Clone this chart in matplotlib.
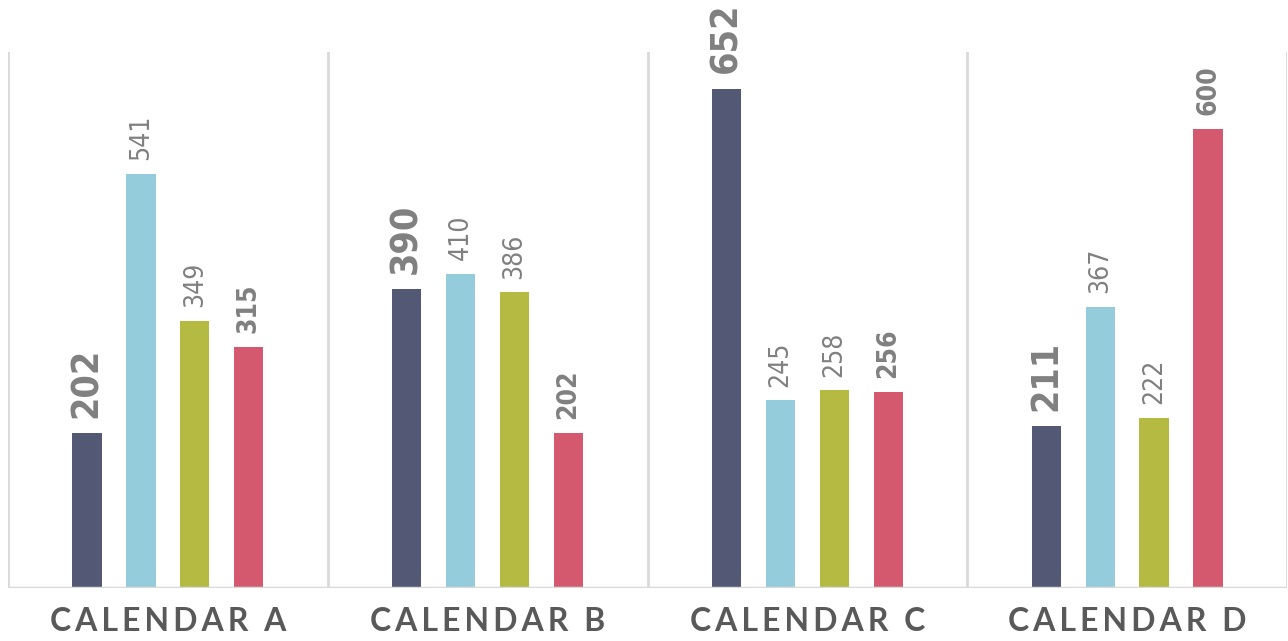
import matplotlib.pyplot as plt
import numpy as np

categories = ["CALENDAR A", "CALENDAR B", "CALENDAR C", "CALENDAR D"]
series_1 = [202, 390, 652, 211]
series_2 = [541, 410, 245, 367]
series_3 = [349, 386, 258, 222]
series_4 = [315, 202, 256, 600]

colors = ["#535874", "#95ccdc", "#b5ba42", "#d4596e"]
# label style per series: (size, weight, gap)
label_styles = [(27, "bold", 11), (19, "normal", 10), (19, "normal", 10), (19, "bold", 10)]

fig = plt.figure(figsize=(12.88, 6.41), dpi=100)
ax = fig.add_axes([8 / 1288, 53 / 641, 1279 / 1288, 536 / 641])

x = np.arange(len(categories))
offsets = [-0.253, -0.084, 0.084, 0.253]
width = 0.092

for s, vals in enumerate([series_1, series_2, series_3, series_4]):
    bars = ax.bar(x + offsets[s], vals, width, color=colors[s], zorder=3)
    size, weight, gap = label_styles[s]
    for b, v in zip(bars, vals):
        ax.annotate(str(v), (b.get_x() + b.get_width() / 2, v),
                    xytext=(0, gap), textcoords="offset points",
                    rotation=90, ha="center", va="bottom",
                    fontsize=size, fontweight=weight, color="#808080",
                    family="DejaVu Sans", fontstretch="condensed")

ax.set_xlim(-0.5, 3.5)
ax.set_ylim(0, 700)

# separators between groups
for xv in np.arange(-0.5, 4, 1):
    ax.axvline(xv, color="#d9d9d9", linewidth=2, zorder=1)
ax.axhline(0, color="#d9d9d9", linewidth=2.5, zorder=4)

for sp in ax.spines.values():
    sp.set_visible(False)
ax.set_yticks([])
ax.set_xticks(x)
ax.set_xticklabels(["\u2009".join(c) for c in categories])
ax.tick_params(axis="x", length=0, pad=14)
for t in ax.get_xticklabels():
    t.set_fontsize(23)
    t.set_fontweight("bold")
    t.set_color("#595959")
    t.set_family(["Lato", "DejaVu Sans"])

fig.savefig("out.png", dpi=100)
